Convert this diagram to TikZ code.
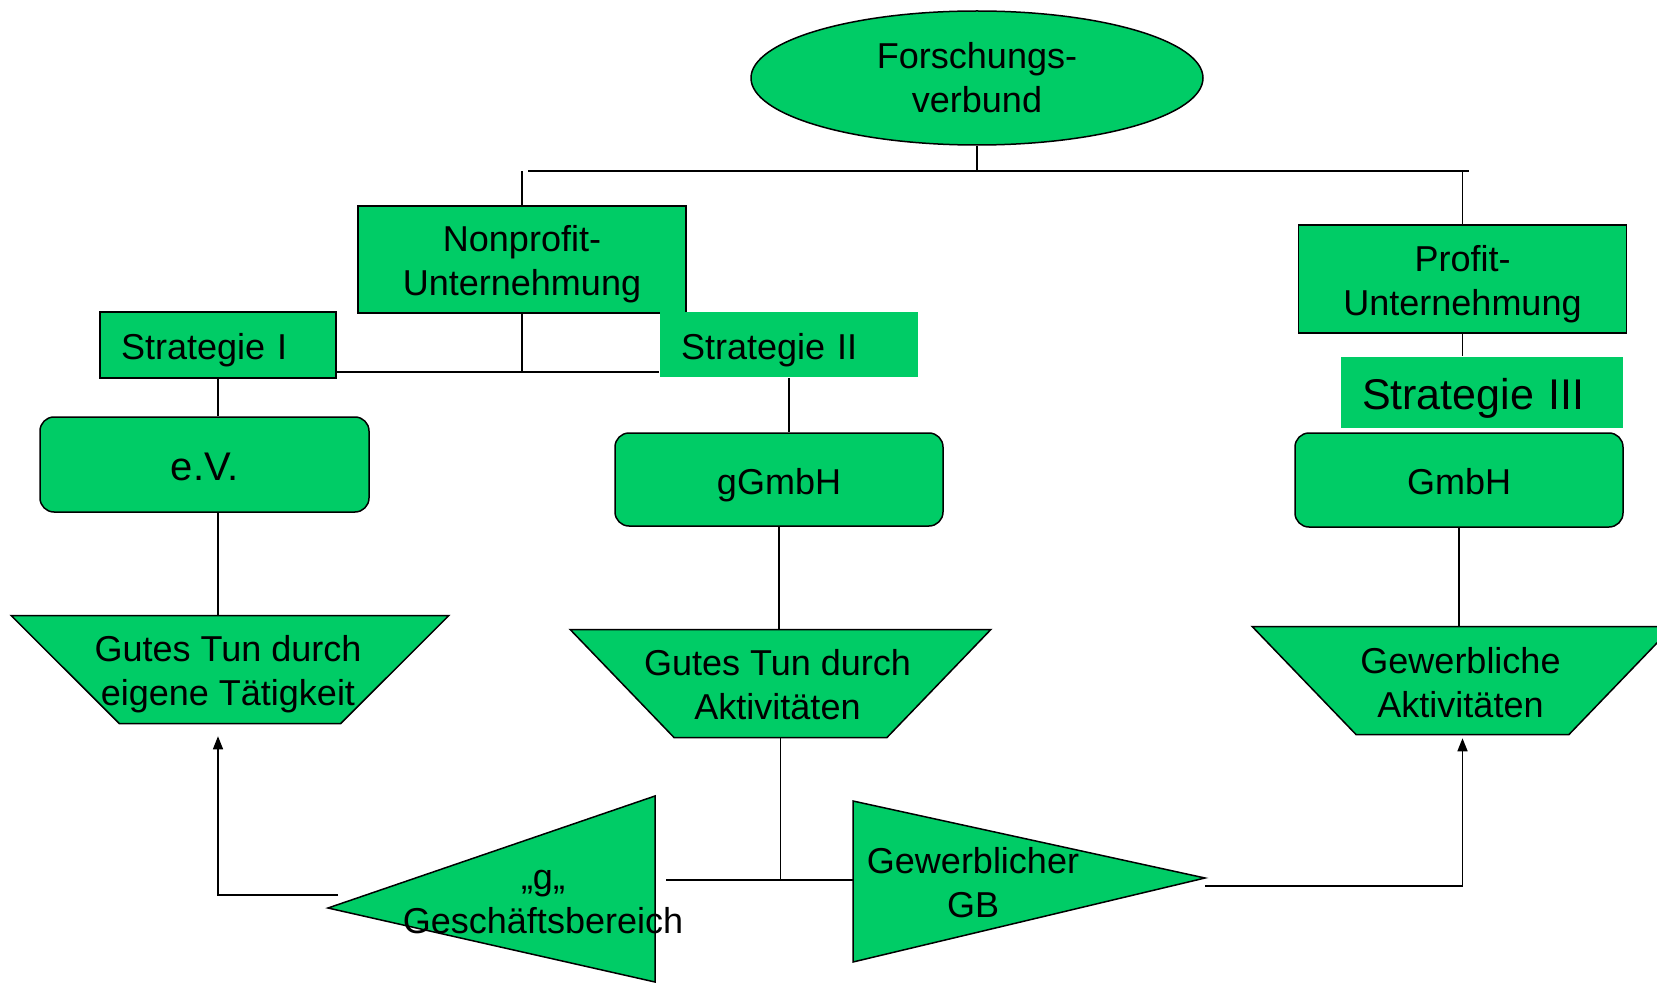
\documentclass[tikz,border=0pt]{standalone}
\usepackage{fontspec}
\setmainfont{Liberation Sans}
\usetikzlibrary{arrows.meta,shapes.geometric,calc}
\definecolor{orggreen}{RGB}{0,204,102}
\newcommand{\ppstrut}{\rule[-0.212em]{0pt}{1.232em}}

\begin{document}
\begin{tikzpicture}[x=1pt,y=-1pt,>={Triangle[width=10pt,length=13pt]},line width=1.5pt]
\tikzstyle{txt}=[font=\fontsize{36}{44}\selectfont,align=center,inner sep=0pt]
\tikzstyle{boxtxt}=[txt,execute at begin node=\ppstrut,execute at end node=\ppstrut]
\tikzstyle{unit}=[draw,fill=orggreen,minimum width=328pt,minimum height=107pt]
\tikzstyle{form}=[boxtxt,draw,fill=orggreen,rounded corners=14pt,minimum width=328pt,minimum height=94pt]
\tikzstyle{strat}=[boxtxt,fill=orggreen,align=left,inner xsep=21pt,inner ysep=0pt,minimum height=66pt]
\tikzstyle{act}=[draw,fill=orggreen,trapezium,trapezium angle=64,trapezium stretches=true,shape border rotate=180,minimum height=108pt,inner sep=3pt]
\useasboundingbox (0,0) rectangle (1657,984);
% top level
\node[txt,ellipse,draw,fill=orggreen,minimum width=452pt,minimum height=134pt] (fv) at (977,78) {Forschungs-\\verbund};
\node[unit] (np) at (522,259.5) {};
\node[txt] at ($(np)+(0,5)$) {Nonprofit-\\Unternehmung};
\node[unit,minimum height=108pt] (pu) at (1462.5,279) {};
\node[txt] at ($(pu)+(0,5)$) {Profit-\\Unternehmung};
% strategies
\node[strat,draw,text width=194pt] (s1) at (218,345) {Strategie I};
\node[strat,text width=216pt,minimum height=65pt] (s2) at (789,344.5) {Strategie II};
\node[strat,text width=240pt,minimum height=71pt,font=\fontsize{43}{50}\selectfont] (s3) at (1482,392.5) {Strategie III};
% legal forms
\node[form,minimum width=329pt,minimum height=95pt,font=\fontsize{40}{48}\selectfont] (ev) at (204.5,464.5) {e.V.};
\node[form,minimum height=93pt] (gg) at (779,479.5) {gGmbH};
\node[form] (gm) at (1459,480) {GmbH};
% activities
\node[act,minimum width=438pt] (t1) at (230,669.5) {};
\node[txt] at ($(t1)+(-2,5)$) {Gutes Tun durch\\eigene Tätigkeit};
\node[act,minimum width=421pt] (t2) at (780.5,683.5) {};
\node[txt] at ($(t2)+(-3,1)$) {Gutes Tun durch\\Aktivitäten};
\node[act,minimum width=421pt] (t3) at (1462.5,680.5) {};
\node[txt] at ($(t3)+(-2,2)$) {Gewerbliche\\Aktivitäten};
% business areas
\filldraw[fill=orggreen] (328,908) -- (655,796) -- (655,982) -- cycle;
\node[txt] (gb1) at (543,902) {„g„\\Geschäftsbereich};
\filldraw[fill=orggreen] (853,801) -- (1205,878) -- (853,962) -- cycle;
\node[txt] (gb2) at (973,883) {Gewerblicher\\GB};
% connectors
\coordinate (barL) at (528,171);
\coordinate (barR) at (1469,171);
\coordinate (npj) at (522,372);
\coordinate (ltA) at (338,895);
\coordinate (ltR) at (666,880);
\coordinate (rtL) at (853,880);
\coordinate (rtA) at (1205,886);
\draw (barL) -- (barR);
\draw (fv.south) -- (fv.south |- barL);
\draw (np.north) -- (np.north |- barL);
\draw (pu.north) -- (pu.north |- barR);
\draw (np.south) -- (npj);
\draw (s1.east |- npj) -- (s2.west |- npj);
\draw (s1.south) -- (s1.south |- ev.north);
\draw (s1.south |- ev.south) -- (s1.south |- t1.north);
\draw (s2.south) -- (s2.south |- gg.north);
\draw (gg.south) -- (gg.south |- t2.north);
\draw (pu.south) -- (s3.north -| pu.south);
\draw (gm.south) -- (gm.south |- t3.north);
\draw (t2.south) -- (t2.south |- ltR);
\draw (ltR) -- (rtL);
\draw[->,shorten >=12pt] (ltA) -| (s1.south |- t1.south);
\draw[->,shorten >=3pt] (rtA) -| (t3.south);
\end{tikzpicture}
\end{document}
